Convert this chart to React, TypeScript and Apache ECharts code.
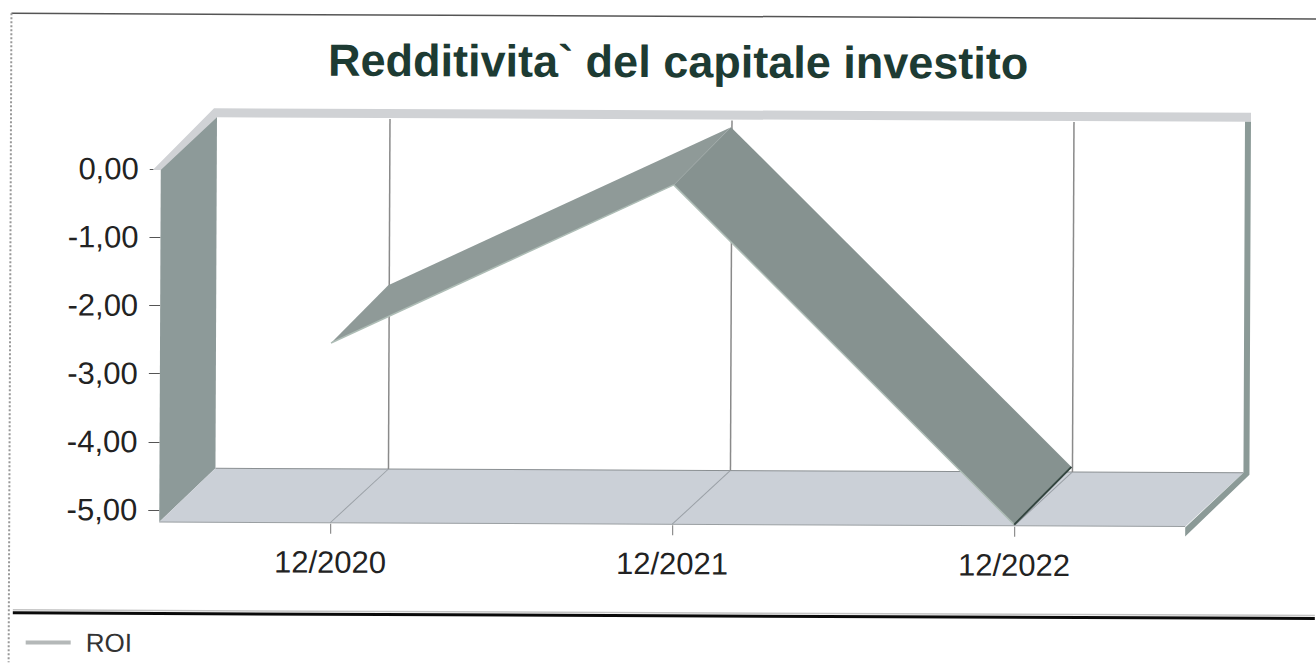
import React, { useEffect, useRef } from "react";
import * as echarts from "echarts";

const titleText = "Redditivita` del capitale investito";
const categories = ["12/2020", "12/2021", "12/2022"];
const roiValues = [-2.54, -0.2, -5.16];
const seriesName = "ROI";
const FONT = '"Liberation Sans", Arial, sans-serif';

const DX = 56;
const DY = -54;
const FLOOR_DROP = 12;

export default function App() {
  const ref = useRef<HTMLDivElement>(null);
  useEffect(() => {
    const chart = echarts.init(ref.current!, null, { renderer: "svg" });
    const line = (x1: number, y1: number, x2: number, y2: number, stroke: string, lineWidth = 1, extra: any = {}) => ({
      type: "line",
      shape: { x1, y1, x2, y2 },
      style: { stroke, lineWidth, ...extra },
    });
    const poly = (points: number[][], fill: string) => ({
      type: "polygon",
      shape: { points },
      style: { fill },
    });
    chart.setOption({
      animation: false,
      backgroundColor: "#ffffff",
      title: {
        text: titleText,
        left: 672,
        top: 32,
        textAlign: "center",
        textStyle: { fontFamily: FONT, fontSize: 45, fontWeight: "bold", color: "#1d3b33" },
      },
      legend: {
        show: true,
        left: 27,
        top: 630,
        padding: 0,
        itemWidth: 45,
        itemHeight: 4,
        itemGap: 0,
        data: [{ name: seriesName, icon: "rect", itemStyle: { color: "#b4b8b8" } }],
        textStyle: { fontFamily: FONT, fontSize: 26, color: "#333333", padding: [0, 0, 0, 10] },
      },
      grid: { left: 160, top: 169, width: 1026, height: 341 },
      xAxis: {
        type: "category",
        position: "bottom",
        offset: 13,
        data: categories,
        boundaryGap: true,
        axisLine: { show: false, onZero: false },
        axisTick: { show: true, alignWithLabel: true, length: 10, lineStyle: { color: "#777777" } },
        axisLabel: { fontFamily: FONT, fontSize: 31, color: "#222222", margin: 23 },
        splitLine: { show: false },
      },
      yAxis: {
        type: "value",
        min: -5,
        max: 0,
        interval: 1,
        axisLine: { show: false },
        axisTick: { show: true, length: 11, lineStyle: { color: "#555555" } },
        axisLabel: {
          fontFamily: FONT,
          fontSize: 31,
          color: "#222222",
          margin: 22,
          formatter: (v: number) => v.toFixed(2).replace(".", ","),
        },
        splitLine: { show: false },
      },
      series: [
        {
          type: "custom",
          name: "scene",
          silent: true,
          z: 3,
          data: [0],
          encode: { x: [], y: [] },
          renderItem: (params: any, api: any) => {
            const r = params.coordSys;
            const L = r.x, R = r.x + r.width, T = r.y, B = r.y + r.height + FLOOR_DROP;
            const floorBack = B + DY;
            const top = T + DY;
            const children: any[] = [
              poly([[L, T], [L + DX, top], [L + DX, floorBack], [L, B]], "#8d9a99"),
              poly([[L, B], [L + DX, floorBack], [R + 58, floorBack], [R, B]], "#cbd0d7"),
              poly([[L - 8, T + 1], [L, T + 1], [L + DX, top + 2], [R + 64, top + 2], [R + 64, top - 7], [L + DX - 3, top - 7]], "#d0d2d5"),
              poly([[R + 58, top + 2], [R + 64, top + 2], [R + 64, floorBack + 2], [R, B + 10], [R, B + 1], [R + 58, floorBack]], "#8b9a97"),
              line(L + DX, floorBack, R + 58, floorBack, "#8a8f92", 1),
              line(L, B, R, B, "#9a9fa2", 1),
            ];
            categories.forEach((_, i) => {
              const x = api.coord([i, -5])[0];
              children.push(line(x, B, x + DX + 2, floorBack, "#9aa0a6", 1));
              children.push(line(x + DX + 2, floorBack, x + DX + 2, top + 3, "#8a8a8a", 1.5));
            });
            return { type: "group", children };
          },
        },
        {
          type: "custom",
          name: seriesName,
          silent: true,
          z: 4,
          encode: { x: 0, y: 1 },
          data: roiValues.map((v, i) => [i, v]),
          renderItem: (params: any, api: any) => {
            const i = api.value(0);
            if (i >= roiValues.length - 1) return null;
            const a = api.coord([i, api.value(1)]);
            const b = api.coord([i + 1, roiValues[i + 1]]);
            const isLast = i === roiValues.length - 2;
            const children: any[] = [
              poly([a, b, [b[0] + DX + 1, b[1] + DY - 4], [a[0] + DX + 1, a[1] + DY - 4]], i === 0 ? "#8f9a98" : "#869290"),
              line(a[0], a[1], b[0], b[1], "#aebdb6", 1.5),
            ];
            if (isLast) {
              children.push(line(b[0], b[1], b[0] + DX + 1, b[1] + DY - 4, "#33453f", 2));
            }
            return { type: "group", children };
          },
        },
      ],
      graphic: [
        { type: "line", z: 1, shape: { x1: 10, y1: 14, x2: 1330, y2: 14 }, style: { stroke: "#555555", lineWidth: 1.5 } },
        { type: "line", z: 1, shape: { x1: 10, y1: 14, x2: 10, y2: 670 }, style: { stroke: "#999999", lineWidth: 2, lineDash: [2, 2] } },
        { type: "line", z: 1, shape: { x1: 14, y1: 613.5, x2: 1330, y2: 613.5 }, style: { stroke: "#0a0a0a", lineWidth: 3 } },
        { type: "line", z: 1, shape: { x1: 14, y1: 610.5, x2: 1330, y2: 610.5 }, style: { stroke: "#c4c4c4", lineWidth: 1.5 } },
      ],
    });
    return () => chart.dispose();
  }, []);
  return (
    <div style={{ position: "fixed", left: 0, top: 0, width: 1316, height: 663, overflow: "hidden", background: "#fff" }}>
      <div
        ref={ref}
        style={{ width: 1316, height: 663, transform: "rotate(0.25deg)", transformOrigin: "160px 345px" }}
      />
    </div>
  );
}
